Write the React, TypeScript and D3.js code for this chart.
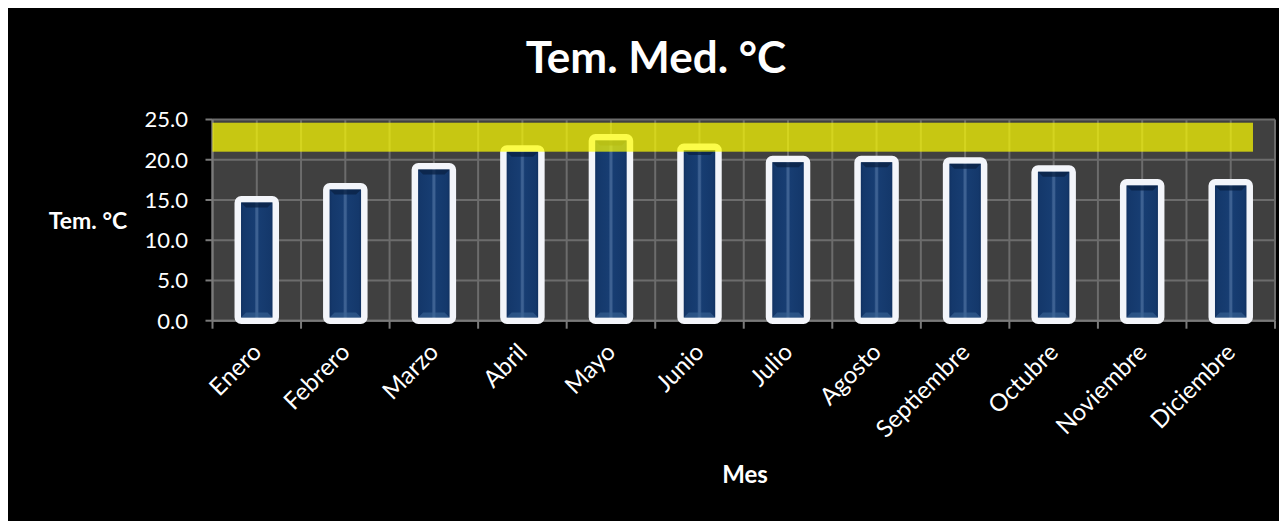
import React from "react";
import * as d3 from "d3";

const months = ["Enero", "Febrero", "Marzo", "Abril", "Mayo", "Junio", "Julio", "Agosto", "Septiembre", "Octubre", "Noviembre", "Diciembre"];
const temps = [15.1, 16.7, 19.2, 21.4, 22.8, 21.6, 20.1, 20.1, 19.9, 18.9, 17.2, 17.2];
const yTicks = [0, 5, 10, 15, 20, 25];
const band = [21, 24.6];
const title = "Tem. Med. °C";
const yTitle = "Tem. °C";
const xTitle = "Mes";

const W = 1287, H = 521;
const plot = { left: 212.5, right: 1275, top: 119.5, bottom: 320.7 };
const FONT = "Lato, 'Open Sans', sans-serif";

export default function App() {
  const x = d3.scaleBand<string>().domain(months).range([plot.left, plot.right]);
  const y = d3.scaleLinear().domain([0, 25]).range([plot.bottom, plot.top]);
  const bw = 38;
  const sw = 6.5;
  const bx = (m: string) => (x(m) as number) + x.bandwidth() / 2 - bw / 2;

  const vLines: number[] = [];
  months.forEach((m) => {
    vLines.push(x(m) as number);
    vLines.push((x(m) as number) + x.bandwidth() / 2);
  });
  vLines.push(plot.right);
  const boundaries = months.map((m) => x(m) as number).concat([plot.right]);

  const lastBarRight = bx(months[months.length - 1]) + bw + sw / 2;

  return (
    <svg width={W - 8} height={H - 8} style={{ display: "block", background: "#000" }}>
      <defs>
        <linearGradient id="barGrad" x1="0" x2="1" y1="0" y2="0">
          <stop offset="0" stopColor="#0c2853" />
          <stop offset="0.15" stopColor="#14386b" />
          <stop offset="0.44" stopColor="#173d72" />
          <stop offset="0.48" stopColor="#3d6192" />
          <stop offset="0.52" stopColor="#3d6192" />
          <stop offset="0.56" stopColor="#173d72" />
          <stop offset="0.85" stopColor="#14386b" />
          <stop offset="1" stopColor="#0c2853" />
        </linearGradient>
      </defs>
      <g transform="translate(-8,-8)">
        <rect x={8} y={8} width={W} height={H} fill="#000" />
        <rect x={plot.left} y={plot.top} width={plot.right - plot.left} height={plot.bottom - plot.top} fill="#404040" />
        {yTicks.map((t) => (
          <line key={"h" + t} x1={plot.left} x2={plot.right} y1={y(t)} y2={y(t)} stroke="#6c6c6c" strokeWidth={2} />
        ))}
        {vLines.map((vx, i) => (
          <line key={"v" + i} x1={vx} x2={vx} y1={plot.top} y2={plot.bottom} stroke="#6c6c6c" strokeWidth={2} />
        ))}
        {yTicks.map((t) => (
          <line key={"yt" + t} x1={plot.left - 7} x2={plot.left} y1={y(t)} y2={y(t)} stroke="#7a7a7a" strokeWidth={2} />
        ))}
        {boundaries.map((bxv, i) => (
          <line key={"xt" + i} x1={bxv} x2={bxv} y1={plot.bottom} y2={plot.bottom + 8} stroke="#7a7a7a" strokeWidth={2} />
        ))}
        <line x1={plot.left} x2={plot.left} y1={plot.top} y2={plot.bottom} stroke="#7a7a7a" strokeWidth={2} />
        <line x1={plot.left} x2={plot.right} y1={plot.bottom} y2={plot.bottom} stroke="#7a7a7a" strokeWidth={2} />
        {months.map((m, i) => {
          const x0 = bx(m);
          const y0 = y(temps[i]);
          const h = y(0) - y0;
          const ix0 = x0 + sw / 2;
          const ix1 = x0 + bw - sw / 2;
          const iy0 = y0 + sw / 2;
          const iy1 = y(0) - sw / 2;
          const bev = 5;
          const top = d3.path();
          top.moveTo(ix0, iy0);
          top.lineTo(ix1, iy0);
          top.lineTo(ix1 - bev, iy0 + bev);
          top.lineTo(ix0 + bev, iy0 + bev);
          top.closePath();
          const bot = d3.path();
          bot.moveTo(ix0, iy1);
          bot.lineTo(ix1, iy1);
          bot.lineTo(ix1 - bev, iy1 - bev);
          bot.lineTo(ix0 + bev, iy1 - bev);
          bot.closePath();
          return (
            <g key={m}>
              <rect x={x0} y={y0} width={bw} height={h} rx={3.5} fill="url(#barGrad)" stroke="#f3f5fa" strokeWidth={sw} />
              <path d={top.toString()} fill="#0a2144" opacity={0.75} />
              <path d={bot.toString()} fill="#3b6494" opacity={0.6} />
            </g>
          );
        })}
        <rect x={plot.left} y={y(band[1])} width={lastBarRight - plot.left} height={y(band[0]) - y(band[1])} fill="#ffff00" opacity={0.71} />
        {yTicks.map((t) => (
          <text key={"yl" + t} x={188} y={y(t)} dy="0.36em" textAnchor="end" fill="#fff" fontFamily={FONT} fontSize={22}>
            {d3.format(".1f")(t)}
          </text>
        ))}
        {months.map((m) => {
          const cx = (x(m) as number) + x.bandwidth() / 2;
          return (
            <text key={"xl" + m} transform={`translate(${cx + 6},${plot.bottom + 33}) rotate(-45)`} textAnchor="end" fill="#fff" fontFamily={FONT} fontSize={24}>
              {m}
            </text>
          );
        })}
        <text x={656} y={73} textAnchor="middle" fill="#fff" fontFamily={FONT} fontWeight="bold" fontSize={44}>{title}</text>
        <text x={88} y={229} textAnchor="middle" fill="#fff" fontFamily={FONT} fontWeight="bold" fontSize={23}>{yTitle}</text>
        <text x={745} y={483} textAnchor="middle" fill="#fff" fontFamily={FONT} fontWeight="bold" fontSize={24}>{xTitle}</text>
      </g>
    </svg>
  );
}
